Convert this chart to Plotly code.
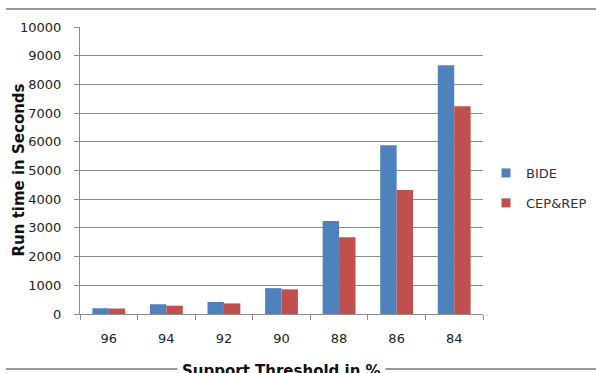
import plotly.graph_objects as go

categories = ["96", "94", "92", "90", "88", "86", "84"]
bide = [200, 340, 420, 900, 3240, 5880, 8670]
cep_rep = [190, 290, 370, 860, 2670, 4320, 7240]
y_ticks = [0, 1000, 2000, 3000, 4000, 5000, 6000, 7000, 8000, 9000, 10000]
y_tick_labels = [str(v) for v in y_ticks]
series_names = ["BIDE", "CEP&REP"]
series_colors = ["#4F81BD", "#C0504D"]

FONT = "Verdana, DejaVu Sans, sans-serif"
GRID = "#8c8c8c"

fig = go.Figure()
for name, vals, col in zip(series_names, [bide, cep_rep], series_colors):
    fig.add_trace(go.Bar(name=name, x=categories, y=vals, marker_color=col,
                         marker_line_width=0, showlegend=False))
# legend-only entries with small square swatches
for i, (name, col) in enumerate(zip(series_names, series_colors)):
    fig.add_trace(go.Scatter(name=name, x=[None], y=[None], mode="markers",
                             marker=dict(symbol="square", size=9, color=col),
                             legendgroup=f"g{i}", showlegend=True))

L, R, T, B = 80, 113, 27, 59
W, H = 596, 373
pw, ph = W - L - R, H - T - B

def px_x(p):
    return (p - L) / pw

def px_y(p):
    return (H - B - p) / ph

fig.update_layout(
    width=W, height=H,
    margin=dict(l=L, r=R, t=T, b=B, pad=0, autoexpand=False),
    paper_bgcolor="white", plot_bgcolor="white",
    barmode="group", bargap=0.43, bargroupgap=0,
    font=dict(family=FONT, size=13, color="#222222"),
    showlegend=True,
    legend=dict(x=px_x(486), y=px_y(158), xanchor="left", yanchor="top",
                traceorder="grouped", tracegroupgap=10,
                font=dict(size=13, color="#333333"), itemwidth=30,
                bgcolor="rgba(0,0,0,0)"),
    xaxis=dict(type="category", tickson="boundaries", ticks="outside", ticklen=5,
               tickcolor=GRID, showline=True, linecolor=GRID, linewidth=1,
               showgrid=False, ticklabelstandoff=12, automargin=False,
               tickfont=dict(size=13, color="#222222")),
    yaxis=dict(range=[0, 10000], tickvals=y_ticks, ticktext=y_tick_labels,
               ticks="outside", ticklen=5,
               tickcolor=GRID, showline=True, linecolor=GRID, linewidth=1,
               showgrid=True, gridcolor=GRID, gridwidth=1, zeroline=False,
               ticklabelstandoff=10, automargin=False,
               tickfont=dict(size=13, color="#222222")),
)

# chart frame lines (partially visible border)
fig.add_shape(type="line", xref="paper", yref="paper", x0=px_x(6), x1=px_x(600),
              y0=px_y(9), y1=px_y(9), line=dict(color="#999999", width=2))
fig.add_shape(type="line", xref="paper", yref="paper", x0=px_x(6), x1=px_x(600),
              y0=px_y(369), y1=px_y(369), line=dict(color="#999999", width=2))

fig.add_annotation(text="<b>Support Threshold in %</b>", xref="paper", yref="paper",
                   x=0.5, y=px_y(371), xanchor="center", yanchor="middle",
                   showarrow=False, bgcolor="white", borderpad=4,
                   font=dict(size=15, color="#111111", family=FONT))
fig.add_annotation(text="<b>Run time in Seconds</b>", xref="paper", yref="paper",
                   x=px_x(18), y=0.5, xanchor="center", yanchor="middle",
                   textangle=-90, showarrow=False,
                   font=dict(size=15, color="#111111", family=FONT))

fig.write_html("out.html", config={"displayModeBar": False},
               post_script="document.body.style.margin='0';document.body.style.overflow='hidden';")
